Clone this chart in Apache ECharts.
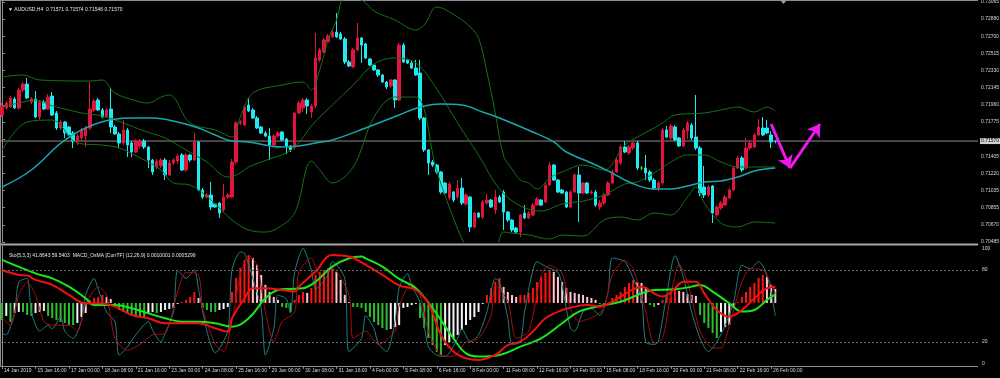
<!DOCTYPE html>
<html><head><meta charset="utf-8">
<script src="https://cdn.jsdelivr.net/npm/echarts/dist/echarts.min.js"></script>
<style>html,body{margin:0;padding:0;background:#000;}#c{width:1000px;height:378px;}</style>
</head><body><div id="c"></div>
<script>
// ---- categories / tick labels ----
const SLOTS = 234;
const categories = Array.from({length: SLOTS}, (_, i) => String(i));
const tickLabels = ["14 Jan 2019","15 Jan 16:00","17 Jan 00:00","18 Jan 08:00","21 Jan 16:00","23 Jan 00:00","24 Jan 08:00","25 Jan 16:00","29 Jan 00:00","30 Jan 08:00","31 Jan 16:00","4 Feb 00:00","5 Feb 08:00","6 Feb 16:00","8 Feb 00:00","11 Feb 08:00","12 Feb 16:00","14 Feb 00:00","15 Feb 08:00","18 Feb 16:00","20 Feb 00:00","21 Feb 08:00","22 Feb 16:00","26 Feb 00:00"];
const priceLabels = ['0.70485','0.70670','0.70855','0.71035','0.71220','0.71405','','0.71775','0.71960','0.72145','0.72330','0.72515','0.72700','0.72880','0.73065'];
const stochLabels = {0:'0',20:'20',80:'80',100:'100'};
const lastPrice = 0.71570;

// ---- OHLC ----
const open = [
.71850,.71925,.71936,.72022,.71925,.72119,.72183,.71990,.72022,.71828,
.71990,.71914,.72054,.71871,.71710,.71775,.71721,.71656,.71560,.71603,
.71624,.71710,.71904,.72011,.71904,.71839,.71914,.71721,.71646,.71549,
.71689,.71549,.71452,.71517,.71570,.71506,.71366,.71291,.71302,.71366,
.71205,.71334,.71355,.71420,.71259,.71420,.71366,.71560,.71044,.70968,
.70990,.70893,.70904,.70829,.70968,.70968,.71345,.71764,.71742,.71957,
.71904,.71818,.71721,.71656,.71624,.71527,.71624,.71667,.71592,.71517,
.71506,.71871,.71925,.72011,.71882,.71947,.72441,.72527,.72635,.72688,
.72742,.72721,.72667,.72420,.72366,.72549,.72678,.72613,.72452,.72387,
.72334,.72280,.72205,.72162,.72226,.72011,.72602,.72441,.72409,.72355,
.72301,.71818,.71474,.71345,.71312,.71237,.71119,.70958,.71022,.70968,
.71065,.70893,.70968,.70646,.70796,.70753,.70904,.70936,.70829,.70968,
.71022,.70807,.70721,.70635,.70592,.70796,.70743,.70775,.70882,.70936,
.70915,.71097,.71312,.71151,.71044,.71022,.70861,.71022,.71205,.71011,
.71119,.71011,.71022,.70861,.70904,.70990,.71119,.71237,.71334,.71506,
.71441,.71495,.71549,.71280,.71280,.71237,.71151,.71065,.71119,.71689,
.71603,.71721,.71603,.71517,.71678,.71742,.71613,.71495,.71076,.70990,
.71087,.70775,.70850,.70882,.70958,.71044,.71280,.71388,.71280,.71495,
.71506,.71635,.71710,.71710,.71635,.71571];
const close = [
.71947,.71979,.72033,.71925,.72119,.72183,.72033,.72022,.71828,.71990,
.71914,.72043,.71850,.71710,.71775,.71656,.71635,.71570,.71624,.71689,
.71710,.71914,.72000,.71904,.71828,.71904,.71721,.71646,.71549,.71689,
.71527,.71452,.71570,.71570,.71506,.71366,.71237,.71355,.71366,.71205,
.71334,.71366,.71409,.71259,.71420,.71366,.71560,.71044,.70968,.70990,
.70861,.70861,.70796,.70968,.70990,.71345,.71764,.71775,.71936,.71893,
.71818,.71710,.71656,.71624,.71527,.71624,.71656,.71581,.71517,.71474,
.71871,.71979,.72011,.71947,.71947,.72463,.72549,.72656,.72699,.72742,
.72688,.72667,.72420,.72377,.72549,.72678,.72602,.72463,.72387,.72334,
.72280,.72205,.72151,.72226,.72011,.72602,.72420,.72409,.72355,.72280,
.71818,.71474,.71334,.71312,.71237,.71022,.71011,.71108,.70936,.71065,
.70904,.70990,.70646,.70796,.70753,.70915,.70936,.70861,.70968,.70915,
.70807,.70721,.70614,.70592,.70775,.70743,.70796,.70882,.70947,.70882,
.71097,.71312,.71151,.71022,.71011,.70861,.71022,.71205,.71011,.71119,
.71011,.71022,.70882,.70904,.70990,.71119,.71237,.71366,.71506,.71452,
.71506,.71549,.71280,.71280,.71226,.71151,.71065,.71119,.71689,.71613,
.71732,.71581,.71517,.71689,.71764,.71603,.71495,.71011,.70990,.71076,
.70796,.70861,.70904,.70968,.71044,.71280,.71388,.71259,.71495,.71549,
.71635,.71721,.71635,.71656,.71560,.71570];
const low = [
.71828,.71904,.71925,.71914,.71904,.72097,.72022,.71968,.71818,.71796,
.71904,.71904,.71839,.71689,.71689,.71603,.71624,.71495,.71527,.71570,
.71506,.71689,.71882,.71893,.71818,.71818,.71656,.71635,.71495,.71527,
.71398,.71398,.71441,.71495,.71484,.71280,.71205,.71269,.71280,.71151,
.71194,.71312,.71323,.71248,.71237,.71345,.71355,.71033,.70947,.70958,
.70829,.70850,.70743,.70807,.70947,.70958,.71323,.71742,.71732,.71882,
.71807,.71699,.71646,.71613,.71366,.71517,.71603,.71570,.71431,.71452,
.71484,.71861,.71882,.71861,.71818,.71925,.72420,.72516,.72624,.72678,
.72678,.72656,.72398,.72366,.72355,.72538,.72409,.72452,.72377,.72323,
.72258,.72194,.72129,.72140,.71925,.72000,.72409,.72398,.72344,.72269,
.71796,.71452,.71205,.71291,.71216,.71001,.70990,.70936,.70915,.70947,
.70882,.70872,.70592,.70635,.70743,.70732,.70882,.70850,.70786,.70904,
.70614,.70700,.70592,.70581,.70538,.70732,.70732,.70764,.70872,.70872,
.70904,.71087,.71140,.71011,.71001,.70850,.70850,.71011,.70700,.71001,
.71001,.71001,.70861,.70829,.70882,.70979,.71108,.71226,.71312,.71441,
.71420,.71474,.71259,.71259,.71151,.71130,.71044,.71033,.71097,.71603,
.71581,.71570,.71506,.71506,.71592,.71581,.71474,.70979,.70958,.70968,
.70689,.70753,.70829,.70872,.70947,.71033,.71269,.71237,.71259,.71474,
.71495,.71624,.71624,.71646,.71495,.71546];
const high = [
.71979,.72000,.72054,.72043,.72140,.72205,.72248,.72043,.72108,.72011,
.72011,.72076,.72097,.71893,.71796,.71785,.71732,.71678,.71646,.71710,
.71732,.72205,.72022,.72033,.71925,.71925,.72140,.71742,.71667,.71796,
.71710,.71570,.71592,.71592,.71592,.71517,.71377,.71377,.71388,.71388,
.71366,.71388,.71431,.71441,.71441,.71431,.71656,.71570,.71065,.71011,
.71130,.70904,.70915,.71108,.71011,.71377,.71785,.71796,.71957,.72033,
.71925,.71839,.71732,.71678,.71710,.71646,.71678,.71678,.71603,.71527,
.71882,.72000,.72033,.72033,.71968,.72731,.72570,.72678,.72721,.72764,
.72946,.72742,.72688,.72441,.72570,.72839,.72688,.72624,.72463,.72398,
.72344,.72291,.72215,.72237,.72237,.72624,.72624,.72452,.72430,.72441,
.72441,.71828,.71484,.71366,.71323,.71248,.71130,.71130,.71033,.71151,
.71173,.71011,.70979,.70807,.70807,.70936,.71001,.70947,.71044,.70990,
.71044,.70818,.70732,.70646,.70786,.70882,.70818,.70904,.70968,.70947,
.71119,.71345,.71323,.71162,.71054,.71033,.71044,.71226,.71291,.71130,
.71130,.71044,.71044,.70936,.71011,.71140,.71259,.71388,.71527,.71570,
.71527,.71570,.71570,.71302,.71420,.71259,.71173,.71140,.71710,.71732,
.71753,.71742,.71613,.71710,.71785,.71764,.72065,.71517,.71302,.71097,
.71097,.70882,.70925,.70990,.71065,.71302,.71409,.71409,.71603,.71570,
.71656,.71807,.71828,.71796,.71678,.71574];

// ---- overlays read at sampled bars: [bar, price] ----
const maLine = [[0,.71076],[7,.71259],[15,.71581],[23,.71764],[31,.71818],[36,.71818],[42,.71775],[47,.71710],[51,.71635],[55,.71570],[59,.71560],[67,.71506],[71,.71517],[75,.71549],[79,.71581],[87,.71710],[95,.71850],[100,.71936],[105,.71968],[110,.71957],[115,.71882],[119,.71818],[127,.71667],[132,.71560],[135,.71452],[141,.71334],[146,.71226],[150,.71130],[156,.71054],[160,.71054],[164,.71087],[168,.71130],[172,.71140],[176,.71183],[180,.71248],[185,.71280]];
const bbUpper = [[0,.72258],[5,.72280],[9,.72226],[21,.72215],[24,.72226],[27,.72086],[33,.71990],[35,.71979],[38,.72043],[40,.72065],[45,.71764],[51,.71689],[55,.71613],[57,.71828],[60,.72086],[67,.72172],[72,.72205],[74,.72119],[76,.72334],[78,.72656],[80,.72871],[82,.73108],[86,.73086],[89,.72968],[94,.72871],[99,.72764],[101,.72817],[104,.73011],[109,.72903],[112,.72796],[114,.72678],[116,.72312],[118,.71871],[120,.71409],[122,.71269],[124,.71151],[126,.71119],[128,.71054],[131,.71173],[134,.71237],[139,.71312],[144,.71259],[149,.71527],[152,.71613],[156,.71710],[158,.71764],[161,.71850],[168,.71871],[172,.71904],[176,.71936],[180,.71882],[183,.71936],[185,.71893]];
const bbMiddle = [[0,.71936],[4,.71979],[8,.72011],[12,.71947],[16,.71904],[19,.71871],[24,.71839],[29,.71764],[34,.71678],[39,.71603],[44,.71474],[49,.71345],[54,.71183],[57,.71226],[59,.71291],[64,.71377],[68,.71441],[71,.71549],[74,.71732],[79,.71957],[84,.72172],[89,.72398],[94,.72463],[99,.72409],[104,.72129],[109,.71764],[114,.71420],[119,.71054],[124,.70872],[129,.70818],[134,.70893],[139,.70925],[144,.70990],[149,.71108],[152,.71130],[156,.71226],[160,.71345],[164,.71420],[168,.71420],[172,.71345],[176,.71291],[180,.71291],[185,.71291]];
const bbLower = [[0,.71474],[6,.71775],[12,.71796],[18,.71549],[24,.71527],[28,.71495],[34,.71366],[38,.71259],[41,.71119],[45,.71097],[50,.70936],[55,.70721],[59,.70614],[63,.70592],[66,.70635],[70,.70796],[74,.71355],[76,.71259],[79,.71119],[84,.71291],[89,.71828],[94,.72043],[99,.72043],[104,.71248],[109,.70624],[112,.70345],[114,.70173],[116,.70216],[118,.70366],[120,.70592],[122,.70581],[126,.70560],[131,.70517],[134,.70560],[139,.70549],[144,.70721],[148,.70753],[152,.70721],[156,.70796],[160,.70775],[164,.70968],[166,.71076],[168,.70904],[172,.70689],[176,.70646],[180,.70700],[185,.70689]];
const priceLine = [[-0.5, lastPrice], [SLOTS - 0.5, lastPrice]];
const arrowPts = [[184,.71753],[188.5,.71280],[195.7,.71753]];

// ---- lower window ----
const stochK = [[0,27],[1,26],[3,45],[4,70],[6,73],[7,45],[9,29],[11,34],[12,31],[14,41],[15,29],[17,23],[19,38],[20,59],[22,73],[23,64],[25,45],[27,37],[28,9],[30,16],[32,26],[35,37],[36,30],[38,20],[39,27],[41,45],[42,80],[44,73],[46,80],[47,64],[49,29],[51,11],[54,29],[55,80],[57,95],[58,94],[60,73],[62,48],[63,9],[65,31],[66,59],[68,56],[69,44],[70,78],[72,98],[74,80],[75,64],[78,76],[79,87],[82,73],[83,12],[86,23],[87,42],[89,31],[90,19],[92,12],[94,37],[95,65],[97,77],[98,67],[100,53],[102,16],[104,9],[106,8],[109,23],[110,31],[112,20],[114,26],[116,45],[118,73],[119,70],[121,40],[122,18],[124,20],[125,45],[128,87],[130,83],[133,78],[134,67],[136,31],[137,29],[139,45],[141,48],[143,42],[145,62],[146,90],[149,87],[151,73],[153,56],[154,20],[156,18],[157,20],[159,59],[161,92],[163,74],[165,45],[167,23],[169,12],[171,20],[173,34],[175,53],[177,84],[179,81],[181,87],[183,76],[185,42]];
const stochD = [[0,40],[2,34],[4,59],[6,70],[8,59],[10,37],[12,34],[16,34],[18,29],[20,51],[23,66],[25,59],[27,23],[30,13],[33,18],[36,26],[39,27],[42,62],[44,78],[47,76],[48,48],[51,18],[53,12],[55,37],[57,76],[59,92],[61,84],[63,45],[65,20],[67,37],[70,45],[71,78],[74,90],[76,76],[79,81],[83,59],[84,23],[87,29],[90,18],[94,29],[95,50],[98,69],[100,59],[102,29],[105,9],[108,8],[111,20],[114,23],[117,42],[118,67],[121,54],[123,23],[126,29],[129,76],[131,84],[134,77],[136,48],[138,37],[142,42],[144,48],[146,76],[149,88],[151,81],[154,45],[156,19],[158,23],[160,59],[162,85],[164,70],[167,29],[170,15],[172,15],[174,34],[177,70],[179,81],[182,80],[185,60]];
const macdMain = [[0,.00206],[4,.00175],[6,.00171],[8,.00144],[12,.00113],[16,.00050],[20,-.00002],[23,-.00002],[27,-.00023],[31,-.00075],[35,-.00096],[39,-.00127],[43,-.00127],[47,-.00127],[51,-.00158],[54,-.00179],[55,-.00096],[58,.00029],[60,.00092],[63,.00092],[67,.00081],[70,.00071],[71,.00102],[75,.00196],[79,.00300],[83,.00290],[87,.00238],[91,.00175],[95,.00110],[99,.00081],[102,-.00002],[105,-.00200],[108,-.00304],[111,-.00346],[114,-.00356],[118,-.00325],[121,-.00263],[124,-.00242],[127,-.00179],[130,-.00096],[134,-.00044],[137,-.00023],[140,-.00013],[143,-.00023],[146,.00008],[150,.00071],[153,.00102],[156,.00060],[158,.00040],[161,.00092],[163,.00133],[166,.00133],[168,.00060],[171,-.00044],[174,-.00085],[177,-.00044],[180,.00029],[183,.00092],[185,.00100]];
const macdSignal = [[0,.00269],[8,.00185],[12,.00154],[16,.00102],[20,.00029],[22,-.00013],[27,-.00013],[31,-.00033],[35,-.00065],[39,-.00096],[43,-.00117],[47,-.00117],[51,-.00127],[55,-.00148],[59,-.00096],[63,.00029],[66,.00081],[69,.00088],[72,.00092],[75,.00133],[79,.00227],[83,.00279],[86,.00290],[87,.00279],[91,.00227],[95,.00150],[99,.00092],[103,-.00033],[108,-.00221],[111,-.00315],[114,-.00335],[119,-.00325],[124,-.00273],[129,-.00221],[134,-.00127],[138,-.00054],[143,-.00019],[148,.00008],[153,.00060],[156,.00081],[161,.00085],[165,.00102],[167,.00113],[170,.00071],[174,-.00002],[177,-.00054],[180,-.00044],[183,.00019],[185,.00053]];
const osma = [
-.00106,-.00081,-.00119,-.00063,-.00056,-.00056,-.00075,-.00081,-.00063,-.00056,
-.0005,-.00081,-.00094,-.00106,-.00119,-.00125,-.00138,-.00138,-.00125,-.00088,
-.00063,.00019,.00031,.00038,.0005,.00038,.00025,-.00025,-.00044,-.00056,
-.00063,-.00075,-.00081,-.00081,-.00088,-.00063,-.00056,-.00063,-.00056,-.00044,
-.00038,-.00031,-.00006,.00006,.00019,.00038,.00069,.00031,-.00031,-.00044,
-.00056,-.00056,-.00044,-.00038,-.00025,.00069,.00156,.00219,.00269,.003,
.00281,.00238,.00175,.00113,.00069,.00038,.00019,-.00025,-.00031,-.00056,
.00019,.0005,.00069,.00063,.00094,.00175,.00194,.00206,.00219,.00219,
.00194,.00144,.0005,.00006,-.00025,-.00025,-.00031,-.00056,-.00088,-.00119,
-.00138,-.00156,-.00169,-.00163,-.0015,-.00138,-.00031,-.00025,-.00013,-.00006,
-.00094,-.00156,-.00219,-.00263,-.00306,-.00325,-.00263,-.00244,-.00219,-.002,
-.00169,-.00138,-.00106,-.00088,-.00056,-.00006,.0005,.00094,.00131,.00156,
.001,.00069,.0005,.00038,.0005,.0005,.00063,.00094,.00131,.00163,
.00188,.00206,.00194,.00163,.00131,.00094,.00069,.00063,.00056,.0005,
.00038,.00031,.00019,-.00006,-.00006,-.00006,.00031,.0005,.00069,.001,
.00125,.00144,.00131,.00125,.001,-.00013,-.00025,-.00013,.00019,.00044,
.00069,.00094,.00075,.00069,.00056,.0005,.00044,-.00075,-.00125,-.00156,
-.00188,-.00219,-.00181,-.0015,-.00138,-.00031,.00006,.00038,.00069,.001,
.00125,.00156,.00175,.00163,.00113,.00088];

// ---- build ----
const candleData = open.map((o, i) => [o, close[i], low[i], high[i]]);
const PMIN = 0.70485, PMAX = 0.73086, PSTEP = (0.73065 - 0.70485) / 14;
const font = 'Liberation Sans, Arial, sans-serif';
const txt = '#d8d8d8', frame = '#8c8c8c';

function osmaColor(p) {
  const i = p.dataIndex, v = osma[i], pv = i > 0 ? osma[i - 1] : v;
  if (v >= 0) return v >= pv ? '#ff1414' : '#ffc4cf';
  return v <= pv ? '#2fbf2f' : '#f4f4f4';
}

const chart = echarts.init(document.getElementById('c'), null, {renderer: 'canvas'});
chart.setOption({
  backgroundColor: '#000',
  animation: false,
  title: [
    {text: '\u25BC AUDUSD,H4  0.71571 0.71574 0.71546 0.71570', left: 3, top: 2,
     textStyle: {color: '#e8e8e8', fontSize: 5, fontWeight: 'normal', fontFamily: font}},
    {text: 'Sto(5,3,3) 41.8643 59.5403  MACD_OsMA [CurrTF] (12,26,9) 0.0010001 0.0005299', left: 4, top: 248,
     textStyle: {color: '#e8e8e8', fontSize: 5, fontWeight: 'normal', fontFamily: font}}
  ],
  grid: [
    {left: 0, right: 22, top: 0, height: 242, containLabel: false, outerBoundsMode: 'none'},
    {left: 0, right: 22, top: 246, height: 120, containLabel: false, outerBoundsMode: 'none'}
  ],
  xAxis: [
    {type: 'category', gridIndex: 0, data: categories, boundaryGap: true,
     axisLine: {show: false}, axisTick: {show: false}, axisLabel: {show: false}, splitLine: {show: false}},
    {type: 'value', gridIndex: 0, min: -0.5, max: SLOTS - 0.5, show: false, splitLine: {show: false}},
    {type: 'category', gridIndex: 1, data: categories, boundaryGap: true,
     axisLine: {show: false},
     axisTick: {show: true, alignWithLabel: true, length: 3, inside: false,
                interval: (i) => i % 8 === 0 && i / 8 < tickLabels.length,
                lineStyle: {color: frame, width: 1}},
     axisLabel: {show: true, interval: (i) => i % 8 === 0 && i / 8 < tickLabels.length,
                 formatter: (v, i) => tickLabels[i / 8] || '', align: 'left', margin: 2, padding: [0, 0, 0, 2],
                 color: txt, fontSize: 5, fontFamily: font},
     splitLine: {show: false}},
    {type: 'value', gridIndex: 1, min: -0.5, max: SLOTS - 0.5, show: false, splitLine: {show: false}}
  ],
  yAxis: [
    {type: 'value', gridIndex: 0, position: 'right', min: PMIN, max: PMAX, interval: PSTEP, scale: true,
     axisLine: {show: true, lineStyle: {color: frame}},
     axisTick: {show: true, length: 3, lineStyle: {color: frame}},
     splitLine: {show: false}, showMaxLabel: false,
     axisLabel: {color: txt, fontSize: 5, fontFamily: font, margin: 3,
       formatter: (v) => { const k = (v - PMIN) / PSTEP; const r = Math.round(k);
                           return Math.abs(k - r) < 0.02 ? (priceLabels[r] || '') : ''; }}},
    {type: 'value', gridIndex: 1, position: 'right', min: 0, max: 100, interval: 20,
     axisLine: {show: true, lineStyle: {color: frame}},
     axisTick: {show: false}, splitLine: {show: false},
     axisLabel: {color: txt, fontSize: 5, fontFamily: font, margin: 4,
                 verticalAlignMaxLabel: 'top', verticalAlignMinLabel: 'bottom',
                 formatter: (v) => stochLabels[v] || ''}},
    {type: 'value', gridIndex: 1, min: -0.00394, max: 0.00356, show: false, splitLine: {show: false}}
  ],
  graphic: [
    {type: 'line', shape: {x1: 0, y1: 0.5, x2: 978, y2: 0.5}, style: {stroke: frame, lineWidth: 1}, silent: true},
    {type: 'line', shape: {x1: 0, y1: 244.5, x2: 978, y2: 244.5}, style: {stroke: '#a8a8a8', lineWidth: 2}, silent: true},
    {type: 'line', shape: {x1: 0, y1: 366.5, x2: 978, y2: 366.5}, style: {stroke: frame, lineWidth: 1}, silent: true},
    {type: 'line', shape: {x1: 0.5, y1: 0, x2: 0.5, y2: 367}, style: {stroke: frame, lineWidth: 1}, silent: true},
    {type: 'polygon', shape: {points: [[780, 0], [787, 0], [783.5, 4]]}, style: {fill: '#9a9a9a'}, silent: true}
  ],
  series: [
    {type: 'line', xAxisIndex: 1, yAxisIndex: 0, data: priceLine, symbol: 'none', z: 1, silent: true,
     lineStyle: {color: '#8a8a8a', width: 1},
     endLabel: {show: true, distance: 2, formatter: lastPrice.toFixed(5),
                color: '#000', backgroundColor: '#d0d0d0', fontSize: 5, fontFamily: font, padding: [1, 1, 0, 1]}},
    {type: 'candlestick', xAxisIndex: 0, yAxisIndex: 0, data: candleData, barWidth: 3, z: 2,
     itemStyle: {color: '#e0143c', color0: '#22e8f0', borderColor: '#e0143c', borderColor0: '#22e8f0',
                 borderColorDoji: '#22dd22', borderWidth: 1}},
    {type: 'line', xAxisIndex: 1, yAxisIndex: 0, data: bbUpper, smooth: 0.35, symbol: 'none', z: 3,
     lineStyle: {color: '#157215', width: 1}},
    {type: 'line', xAxisIndex: 1, yAxisIndex: 0, data: bbMiddle, smooth: 0.35, symbol: 'none', z: 3,
     lineStyle: {color: '#157215', width: 1}},
    {type: 'line', xAxisIndex: 1, yAxisIndex: 0, data: bbLower, smooth: 0.35, symbol: 'none', z: 3,
     lineStyle: {color: '#157215', width: 1}},
    {type: 'line', xAxisIndex: 1, yAxisIndex: 0, data: maLine, smooth: 0.4, symbol: 'none', z: 4,
     lineStyle: {color: '#1ba6ae', width: 1.5}},
    {type: 'line', xAxisIndex: 1, yAxisIndex: 0, data: [[arrowPts[0][0], arrowPts[0][1]]], symbol: 'none', z: 5,
     lineStyle: {opacity: 0},
     markLine: {silent: true, symbol: ['none', 'arrow'], symbolSize: 12, animation: false,
       lineStyle: {color: '#ec18ec', width: 3, type: 'solid'}, label: {show: false},
       data: [[{coord: arrowPts[0]}, {coord: arrowPts[1]}], [{coord: arrowPts[1]}, {coord: arrowPts[2]}]]}},
    {type: 'bar', xAxisIndex: 2, yAxisIndex: 2, data: osma, barWidth: 2, z: 2,
     itemStyle: {color: osmaColor}},
    {type: 'line', xAxisIndex: 3, yAxisIndex: 1, data: stochK, symbol: 'none', smooth: 0.25, z: 3,
     lineStyle: {color: '#1f7f80', width: 1},
     markLine: {silent: true, symbol: 'none', animation: false, label: {show: false},
       lineStyle: {color: '#6a6a6a', width: 1, type: [2, 2]}, data: [{yAxis: 80}, {yAxis: 20}]}},
    {type: 'line', xAxisIndex: 3, yAxisIndex: 1, data: stochD, symbol: 'none', smooth: 0.25, z: 3,
     lineStyle: {color: '#a80c0c', width: 1}},
    {type: 'line', xAxisIndex: 3, yAxisIndex: 2, data: macdSignal, symbol: 'none', smooth: 0.4, z: 4,
     lineStyle: {color: '#18e818', width: 2}},
    {type: 'line', xAxisIndex: 3, yAxisIndex: 2, data: macdMain, symbol: 'none', smooth: 0.4, z: 4,
     lineStyle: {color: '#f01010', width: 2}}
  ]
});
</script>
</body></html>
